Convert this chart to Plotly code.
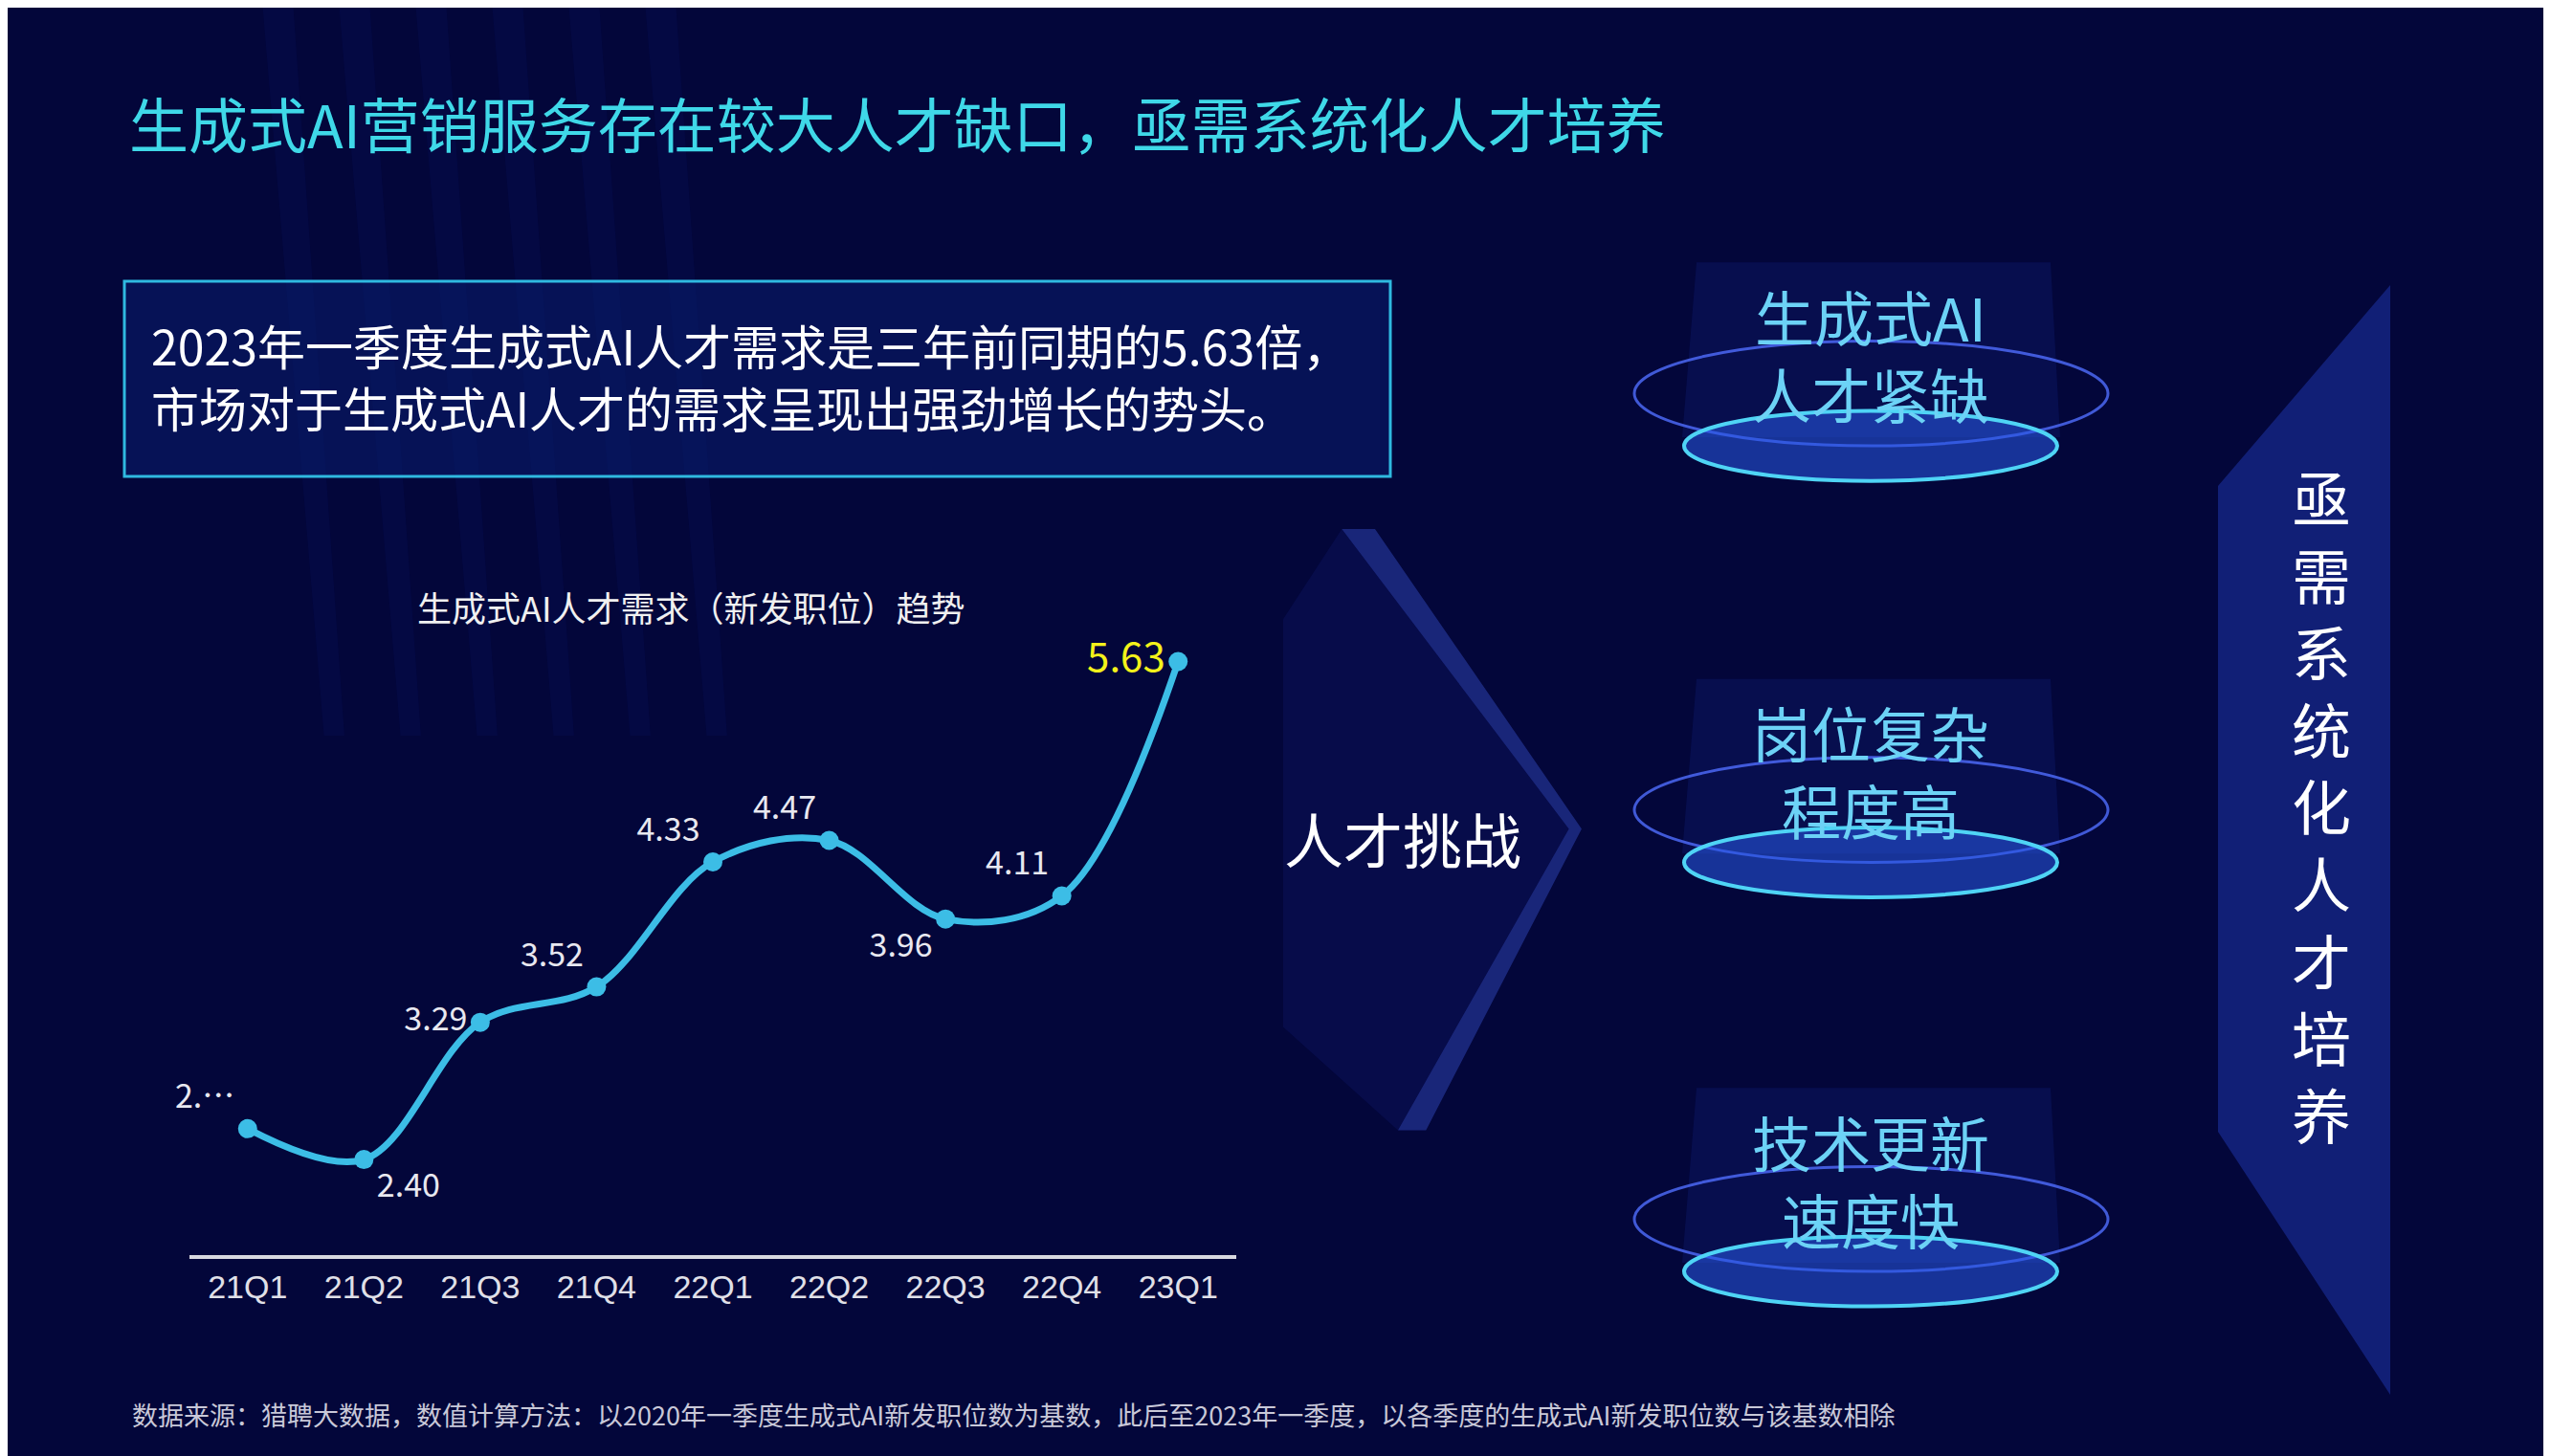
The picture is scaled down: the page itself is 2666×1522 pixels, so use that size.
import plotly.graph_objects as go

# 数据
quarters = ['21Q1', '21Q2', '21Q3', '21Q4', '22Q1', '22Q2', '22Q3', '22Q4', '23Q1']
demand = [2.60, 2.40, 3.29, 3.52, 4.33, 4.47, 3.96, 4.11, 5.63]
labels = ['2.…', '2.40', '3.29', '3.52', '4.33', '4.47', '3.96', '4.11', '5.63']
label_pos = ['top left', 'bottom right', 'middle left', 'top left', 'top left',
             'top left', 'bottom left', 'top left', 'middle left']
label_colors = ['#e8e8f0'] * 8 + ['#f4f21a']
label_sizes = [34] * 8 + [42]

challenges = ['生成式AI<br>人才紧缺', '岗位复杂<br>程度高', '技术更新<br>速度快']
ring_y = [0.735, 0.449, 0.168]   # paper y of ring centres

FONT = 'Noto Sans CJK SC'
BG = '#03063a'
W, H = 2666, 1522

fig = go.Figure()

fig.add_trace(go.Scatter(
    x=quarters, y=demand,
    mode='lines+markers+text',
    line=dict(color='#3cbde6', width=7, shape='spline', smoothing=1.0),
    marker=dict(size=20, color='#3cbde6'),
    text=labels, textposition=label_pos,
    textfont=dict(family=FONT, size=label_sizes, color=label_colors),
    cliponaxis=False, hoverinfo='skip', showlegend=False,
))

shapes = []

# 背景装饰: 左侧光束
for x0 in [0.10, 0.13, 0.16, 0.19, 0.22, 0.25]:
    shapes.append(dict(type='path', xref='paper', yref='paper',
                       path=f'M {x0} 1 L {x0+0.012} 1 L {x0+0.032} 0.50 L {x0+0.024} 0.50 Z',
                       fillcolor='rgba(30,60,200,0.07)', line=dict(width=0), layer='below'))

# 文本框
shapes.append(dict(type='rect', xref='paper', yref='paper',
                   x0=122 / W, x1=1445 / W, y0=1 - 490 / H, y1=1 - 286 / H,
                   line=dict(color='#2fb9e0', width=3), fillcolor='rgba(10,30,110,0.55)'))

# 人才挑战 箭头
shapes.append(dict(type='path', xref='paper', yref='paper',
                   path='M 0.523 0.642 L 0.612 0.436 L 0.545 0.229 L 0.556 0.229 L 0.617 0.436 L 0.536 0.642 Z',
                   fillcolor='rgba(70,100,240,0.35)', line=dict(width=0), layer='below'))
shapes.append(dict(type='path', xref='paper', yref='paper',
                   path='M 0.523 0.642 L 0.612 0.436 L 0.545 0.229 L 0.50 0.30 L 0.50 0.58 Z',
                   fillcolor='rgba(40,60,200,0.12)', line=dict(width=0), layer='below'))

# 光环
for cy in ring_y:
    shapes.append(dict(type='path', xref='paper', yref='paper',
                       path=f'M {1765/W} {cy+0.09} L {2135/W} {cy+0.09} L {2145/W} {cy-0.03} L {1750/W} {cy-0.03} Z',
                       fillcolor='rgba(40,70,220,0.13)', line=dict(width=0), layer='below'))
    shapes.append(dict(type='circle', xref='paper', yref='paper',
                       x0=1700 / W, x1=2195 / W, y0=cy - 0.036, y1=cy + 0.036,
                       line=dict(color='rgba(80,110,255,0.8)', width=3), fillcolor='rgba(0,0,0,0)'))
    shapes.append(dict(type='circle', xref='paper', yref='paper',
                       x0=1752 / W, x1=2142 / W, y0=cy - 0.060, y1=cy - 0.012,
                       line=dict(color='#4fd4f5', width=4), fillcolor='rgba(40,90,230,0.55)'))

# 右侧面板
shapes.append(dict(type='path', xref='paper', yref='paper',
                   path=f'M {2310/W} {1-500/H} L {2490/W} {1-290/H} L {2490/W} {1-1450/H} L {2310/W} {1-1175/H} Z',
                   fillcolor='rgba(40,70,210,0.40)', line=dict(width=0), layer='below'))

annotations = [
    dict(text='生成式AI营销服务存在较大人才缺口，亟需系统化人才培养', x=125 / W, y=1 - 120 / H,
         xanchor='left', font=dict(family=FONT, size=62, color='#3fd8e8')),
    dict(text='2023年一季度生成式AI人才需求是三年前同期的5.63倍，<br>市场对于生成式AI人才的需求呈现出强劲增长的势头。',
         x=148 / W, y=1 - 385 / H, xanchor='left', align='left',
         font=dict(family=FONT, size=50, color='#ffffff')),
    dict(text='生成式AI人才需求（新发职位）趋势', x=714 / W, y=1 - 626 / H,
         font=dict(family=FONT, size=36, color='#f0f0f0')),
    dict(text='人才挑战', x=1458 / W, y=1 - 868 / H,
         font=dict(family=FONT, size=62, color='#ffffff')),
    dict(text='<br>'.join('亟需系统化人才培养'), x=2418 / W, y=0.4525,
         font=dict(family=FONT, size=62, color='#ffffff')),
    dict(text='数据来源：猎聘大数据，数值计算方法：以2020年一季度生成式AI新发职位数为基数，此后至2023年一季度，以各季度的生成式AI新发职位数与该基数相除',
         x=128 / W, y=1 - 1470 / H, xanchor='left',
         font=dict(family=FONT, size=27, color='#c8c8d8')),
]
for t, cy in zip(challenges, ring_y):
    annotations.append(dict(text=t, x=1947 / W, y=cy + 0.027,
                            font=dict(family=FONT, size=62, color='#6cd2f6')))
for a in annotations:
    a.setdefault('xanchor', 'center')
    a.setdefault('align', 'center')
    a.update(xref='paper', yref='paper', yanchor='middle', showarrow=False)

fig.update_layout(
    width=W, height=H,
    margin=dict(l=0, r=0, t=0, b=0),
    paper_bgcolor=BG, plot_bgcolor='rgba(0,0,0,0)',
    shapes=shapes, annotations=annotations,
    xaxis=dict(domain=[190 / W, 1284 / W], range=[-0.5, 8.5], showgrid=False,
               showline=True, linecolor='#d8d8e0', linewidth=4, ticks='',
               tickfont=dict(family='Liberation Sans', size=34, color='#e0e0e8')),
    yaxis=dict(domain=[1 - 1304 / H, 1 - 640 / H], range=[1.78, 5.9], visible=False),
)

fig.write_html('out.html')
